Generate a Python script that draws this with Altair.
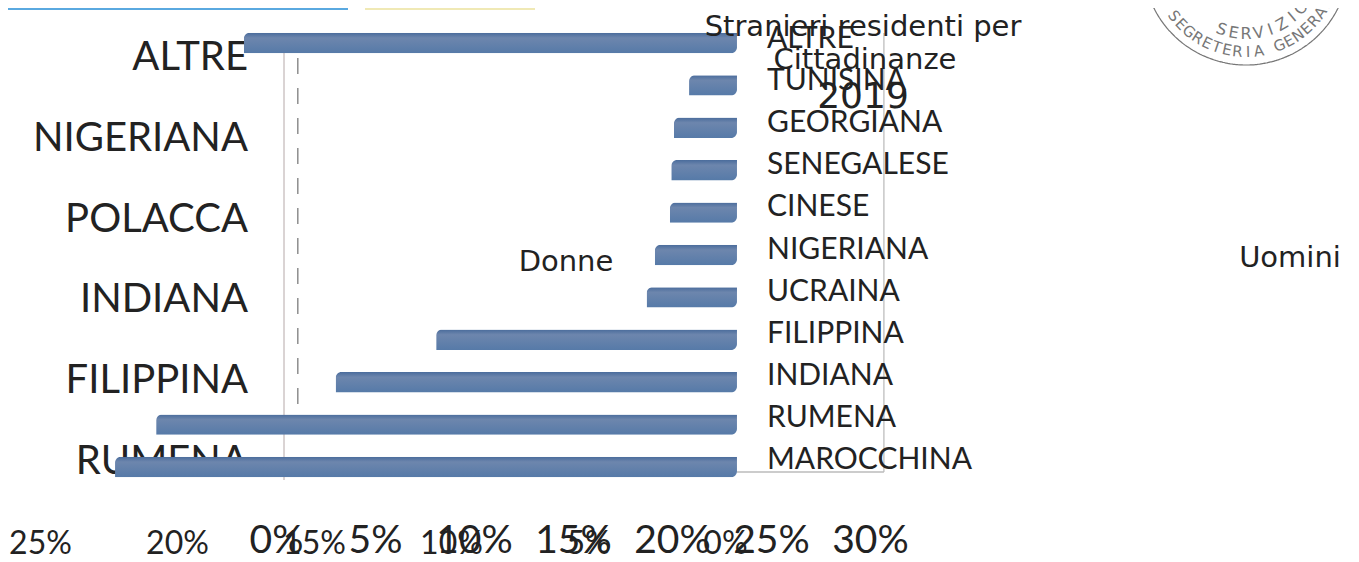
import altair as alt
import pandas as pd

categories = ["ALTRE", "TUNISINA", "GEORGIANA", "SENEGALESE", "CINESE", "NIGERIANA",
              "UCRAINA", "FILIPPINA", "INDIANA", "RUMENA", "MAROCCHINA"]
donne = [18.0, 1.75, 2.3, 2.4, 2.45, 3.0, 3.3, 10.98, 14.65, 21.2, 22.7]
left_labels = ["ALTRE", "NIGERIANA", "POLACCA", "INDIANA", "FILIPPINA", "RUMENA"]
ticks_donne = [25, 20, 15, 10, 5, 0]
ticks_uomini = [0, 5, 10, 15, 20, 25, 30]
outer_stamp = "SEGRETERIA GENERALE"
inner_stamp = "SERVIZIO"

W, H = 1343, 517
scale_d = alt.Scale(domain=[26.606, -22.41], range=[0, W], nice=False, zero=False)
scale_u = alt.Scale(domain=[-13.94, 53.89], range=[0, W], nice=False, zero=False)
y_bars = alt.Scale(domain=categories, range=[13.8, 480.2], paddingInner=0.52, paddingOuter=0.26)
y_right = alt.Scale(domain=categories, range=[9.9, 473.1], paddingInner=0, paddingOuter=0)
y_left = alt.Scale(domain=left_labels, range=[9.6, 494.4], paddingInner=0, paddingOuter=0)

df = pd.DataFrame({"cat": categories, "v": donne})
dfl = pd.DataFrame({"cat": left_labels})

CALIBRI = "Lato"

def pct_axis(values, offset, size, pad):
    return alt.Axis(values=values, orient="bottom", labelExpr="datum.value + '%'", labelOffset=offset,
                    labelFontSize=size, labelFont=CALIBRI, labelColor="#222", labelPadding=pad,
                    ticks=False, domain=False, grid=False, title=None, labelOverlap=False, labelFlush=False)

frame_left = alt.Chart(pd.DataFrame({"v": [0]})).mark_rule(color="#b5a8a8", strokeWidth=1).encode(
    x=alt.X("v:Q", scale=scale_u, axis=pct_axis(ticks_uomini, -8, 39, -4)),
    y=alt.value(45), y2=alt.value(472))
frame_right = alt.Chart(pd.DataFrame({"v": [30.3]})).mark_rule(color="#aaa", strokeWidth=1).encode(
    x=alt.X("v:Q", scale=scale_u, axis=None), y=alt.value(25), y2=alt.value(464))
dash = alt.Chart(pd.DataFrame({"v": [0.7]})).mark_rule(color="#555", strokeWidth=1, strokeDash=[16, 14]).encode(
    x=alt.X("v:Q", scale=scale_u, axis=None), y=alt.value(50), y2=alt.value(415))
base_line = alt.Chart(pd.DataFrame({"a": [22.88], "b": [30.3]})).mark_rule(color="#bbb", strokeWidth=1.5).encode(
    x=alt.X("a:Q", scale=scale_u, axis=None), x2="b", y=alt.value(464))

left = alt.Chart(dfl).mark_text(align="right", baseline="middle", fontSize=40, font=CALIBRI, color="#222").encode(
    x=alt.value(240), y=alt.Y("cat:N", scale=y_left, axis=None), text="cat:N")

gradient = alt.Gradient(gradient="linear", x1=0, x2=0, y1=0, y2=1,
                        stops=[alt.GradientStop(offset=0, color="#4a6c9c"),
                               alt.GradientStop(offset=0.25, color="#6d86ad"),
                               alt.GradientStop(offset=1, color="#567aa8")])
bars = alt.Chart(df).mark_bar(fill=gradient, cornerRadiusTopLeft=6, cornerRadiusBottomRight=6).encode(
    x=alt.X("v:Q", scale=scale_d, axis=pct_axis(ticks_donne, -12, 32, 3)),
    y=alt.Y("cat:N", scale=y_bars, axis=None))

right = alt.Chart(df).mark_text(align="left", baseline="middle", fontSize=30, font=CALIBRI, color="#222").encode(
    x=alt.value(759), y=alt.Y("cat:N", scale=y_right, axis=None), text="cat:N")

def note(text, x, y, size):
    return alt.Chart(pd.DataFrame({"t": [text]})).mark_text(
        align="center", baseline="middle", font="DejaVu Sans", fontSize=size, color="#222"
    ).encode(x=alt.value(x), y=alt.value(y), text="t:N")

strip_blue = alt.Chart(pd.DataFrame({"a": [0]})).mark_rule(color="#5aa9e0", strokeWidth=2).encode(
    x=alt.value(0), x2=alt.value(340), y=alt.value(1))
strip_yellow = alt.Chart(pd.DataFrame({"a": [0]})).mark_rule(color="#f0e9b5", strokeWidth=2).encode(
    x=alt.value(357), x2=alt.value(527), y=alt.value(1))

ring = alt.Chart(pd.DataFrame({"a": [0]})).mark_arc(
    theta=1.4, theta2=4.9, radius=103, radius2=103, stroke="#777", strokeWidth=1.2,
    strokeDash=[3, 2], fillOpacity=0).encode(x=alt.value(1238), y=alt.value(-46))

def stamp_letters(word, start, step, r, size):
    rows = []
    for i, ch in enumerate(word):
        th = start - i * step
        rows.append({"c": ch, "th": th, "ang": (th - 180) % 360, "r": r})
    return alt.Chart(pd.DataFrame(rows)).mark_text(
        baseline="middle", align="center", fontSize=size, font="DejaVu Sans", color="#777"
    ).encode(
        x=alt.value(1238), y=alt.value(-46),
        theta=alt.Theta("th:Q", scale=alt.Scale(domain=[0, 360], range=[0, 6.2832])),
        radius=alt.Radius("r:Q", scale=None),
        angle=alt.Angle("ang:Q", scale=None),
        text="c:N")

chart = alt.layer(
    frame_left, frame_right, dash, base_line, left, bars, right,
    note("Stranieri residenti per", 855, 19, 29),
    note("Cittadinanze", 857, 52, 29),
    note("2019", 855, 89, 36),
    note("Donne", 558, 254, 29),
    note("Uomini", 1282, 250, 29),
    strip_blue, strip_yellow, ring,
    stamp_letters(outer_stamp, 233, 6.8, 90, 15),
    stamp_letters(inner_stamp, 200, 10, 72, 16),
).resolve_scale(x="independent", y="independent", theta="independent", radius="independent").properties(
    width=W, height=H,
    autosize=alt.AutoSizeParams(type="none"),
    padding={"left": 0, "top": 0, "right": 0, "bottom": 37},
).configure_view(stroke=None)

chart.save("out.html", embed_options={"renderer": "svg", "actions": False})
